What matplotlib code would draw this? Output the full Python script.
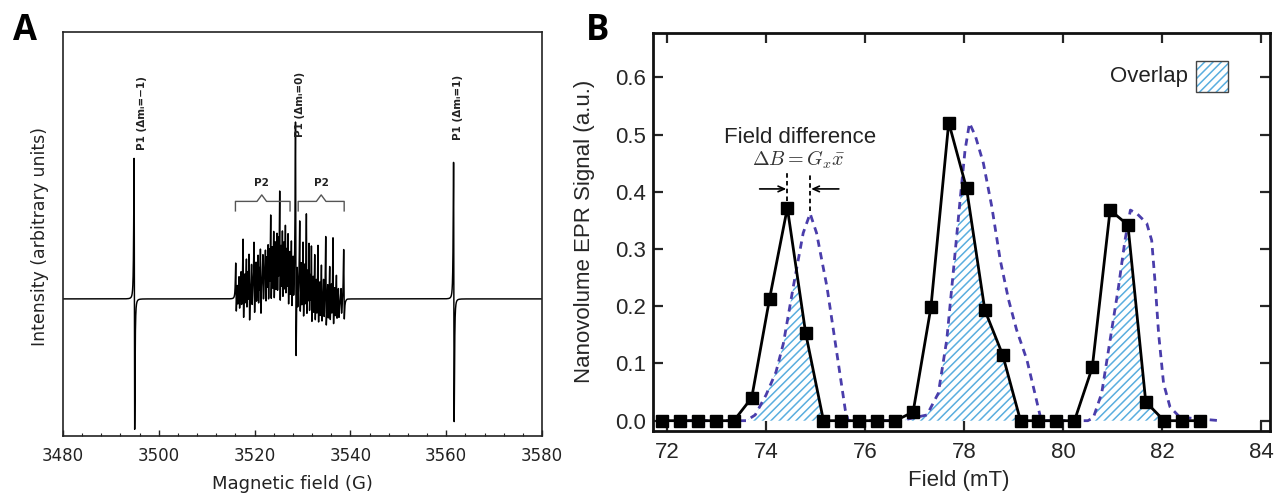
import numpy as np
import matplotlib
matplotlib.use("Agg")
import matplotlib.pyplot as plt
from matplotlib.patches import Rectangle
from matplotlib.ticker import MultipleLocator

plt.rcParams["mathtext.fontset"] = "cm"

# ---------------- Panel A data (EPR spectrum) ----------------
a_xticks = [3480, 3500, 3520, 3540, 3560, 3580]
a_xlabel = "Magnetic field (G)"
a_ylabel = "Intensity (arbitrary units)"

# P1 lines: position (G), upper lobe, lower lobe (arbitrary units)
p1_pos = [3494.9, 3528.6, 3561.6]
p1_up = [140.5, 160.5, 136.5]
p1_down = [130.4, 75.2, 122.7]
p1_labels = ["P1 (Δmᵢ=−1)", "P1 (Δmᵢ=0)", "P1 (Δmᵢ=1)"]
p1_label_x = [3496.5, 3529.5, 3562.5]
p1_label_y = [149, 162, 159]

# P2 hyperfine lines (main)
p2_pos = [3516.12, 3516.81, 3517.65, 3518.35, 3518.90, 3519.94, 3520.78, 3521.27,
          3522.32, 3522.87, 3523.42, 3524.05, 3524.74, 3525.30, 3525.86, 3526.49,
          3527.04, 3527.74, 3529.48, 3530.17, 3530.87, 3531.42, 3531.92, 3532.61,
          3533.30, 3534.01, 3534.91, 3535.74, 3536.43, 3537.14, 3538.66]
p2_up = [34, 18, 52, 30, 38, 42, 25, 38, 24, 32, 62, 42, 36, 82, 44, 48,
         44, 38, 66, 50, 80, 55, 58, 47, 58, 40, 68, 38, 68, 30, 52]
p2_down = [16, 16, 29, 24, 32, 30, 30, 32, 32, 32, 30, 30, 30, 37, 30, 28,
           32, 30, 27, 28, 26, 22, 24, 22, 22, 18, 22, 18, 21, 15, 18]
# P2 weaker lines in between
p2m_pos = [3516.45, 3517.23, 3518.00, 3518.62, 3519.42, 3520.36, 3521.02, 3521.80,
           3522.60, 3523.15, 3523.73, 3524.40, 3525.02, 3525.58, 3526.17, 3526.76,
           3527.39, 3528.10, 3528.95, 3529.82, 3530.52, 3531.15, 3531.67, 3532.27,
           3532.95, 3533.65, 3534.46, 3535.33, 3536.08, 3536.78, 3537.55, 3538.10]
p2m_up = [12, 20, 18, 20, 22, 22, 20, 24, 22, 26, 28, 30, 32, 30, 32, 28,
          26, 24, 26, 28, 28, 26, 24, 24, 22, 22, 24, 20, 20, 18, 16, 14]
p2m_down = [10, 16, 16, 18, 20, 20, 18, 22, 20, 22, 22, 24, 24, 24, 24, 22,
            22, 20, 20, 20, 20, 18, 18, 18, 18, 16, 16, 16, 16, 14, 14, 12]
# broad background under the P2 group
p2_bg_x = [3515.9, 3517, 3519, 3521, 3523, 3525, 3527, 3528.5, 3530, 3532, 3534,
           3536, 3538, 3539.3]
p2_bg_y = [0, 6, 12, 18, 26, 30, 26, 16, 8, 0, -5, -6, -4, 0]
# P2 brackets: left end, tip, right end
p2_brackets = [(3516.0, 3521.5, 3527.4), (3529.1, 3533.9, 3538.7)]

# ---------------- Panel B data ----------------
b_field = [71.90, 72.26, 72.62, 72.99, 73.35, 73.71, 74.07, 74.43, 74.80, 75.16,
           75.52, 75.88, 76.24, 76.61, 76.97, 77.33, 77.69, 78.05, 78.42, 78.78,
           79.14, 79.50, 79.86, 80.23, 80.59, 80.95, 81.31, 81.67, 82.04, 82.40,
           82.76]
b_signal = [0, 0, 0, 0, 0, 0.040, 0.213, 0.372, 0.153, 0,
            0, 0, 0, 0, 0.015, 0.198, 0.521, 0.406, 0.193, 0.115,
            0, 0, 0, 0, 0.093, 0.368, 0.342, 0.033, 0, 0,
            0]
shift_field = [71.90, 73.60, 73.78, 74.00, 74.20, 74.35, 74.55, 74.75, 74.89, 75.02,
               75.23, 75.43, 75.60, 75.66, 76.71, 77.25, 77.48, 77.65, 77.78, 77.92,
               78.02, 78.11, 78.23, 78.39, 78.56, 78.73, 78.90, 79.06, 79.27, 79.43,
               79.54, 79.62, 80.50, 80.61, 80.78, 80.95, 81.12, 81.25, 81.36, 81.49,
               81.69, 81.79, 81.86, 81.93, 82.03, 82.16, 82.36, 83.17]
shift_signal = [0, 0, 0.010, 0.045, 0.085, 0.135, 0.234, 0.328, 0.362, 0.328,
                0.234, 0.118, 0.019, 0, 0, 0.010, 0.048, 0.141, 0.258, 0.386,
                0.473, 0.520, 0.497, 0.450, 0.374, 0.281, 0.211, 0.159, 0.106, 0.048,
                0.007, 0, 0, 0.005, 0.048, 0.141, 0.234, 0.315, 0.368, 0.362,
                0.345, 0.315, 0.240, 0.152, 0.065, 0.024, 0.006, 0]
b_xticks = [72, 74, 76, 78, 80, 82, 84]
b_yticks = [0.0, 0.1, 0.2, 0.3, 0.4, 0.5, 0.6]
b_xlabel = "Field (mT)"
b_ylabel = "Nanovolume EPR Signal (a.u.)"

# ---------------- figure ----------------
fig = plt.figure(figsize=(12.8, 4.93), dpi=100)

# ---- Panel A ----
axA = fig.add_axes([63 / 1280, 57 / 493, 479 / 1280, 404 / 493])
x = np.arange(3480.0, 3580.0001, 0.004)


def dlor(xx, x0, up, down, g):
    u = (xx - x0) / g
    s = -2 * u / (1 + u ** 2) ** 2 / 0.6495
    return np.where(u < 0, up * s, down * s)


y = np.zeros_like(x)
for p, u_, d_ in zip(p1_pos, p1_up, p1_down):
    y += dlor(x, p, u_, d_, 0.11)
for p, u_, d_ in zip(p2_pos, p2_up, p2_down):
    y += dlor(x, p, u_, d_, 0.11)
for p, u_, d_ in zip(p2m_pos, p2m_up, p2m_down):
    y += dlor(x, p, u_, d_, 0.11)
y += np.interp(x, p2_bg_x, p2_bg_y, left=0, right=0)

axA.plot(x, y, color="black", lw=1.05)
axA.set_xlim(3480, 3580)
axA.set_ylim(-137.1, 266.9)
axA.set_xticks(a_xticks)
axA.xaxis.set_minor_locator(MultipleLocator(4))
axA.set_yticks([])
axA.tick_params(axis="x", which="both", direction="in", top=False, labelsize=12,
                pad=8, colors="#222222")
axA.tick_params(axis="x", which="major", length=4, width=1)
axA.tick_params(axis="x", which="minor", length=2.5, width=0.8)
for s in axA.spines.values():
    s.set_linewidth(1.2)
    s.set_color("#222222")
axA.set_xlabel(a_xlabel, fontsize=13, color="#222222", va="center")
axA.xaxis.set_label_coords(0.48, -0.119)
axA.set_ylabel(a_ylabel, fontsize=12.5, color="#222222", va="center")
axA.yaxis.set_label_coords(-0.048, 0.495)

for lx, ly, lab in zip(p1_label_x, p1_label_y, p1_labels):
    axA.text(lx, ly, lab, rotation=90, ha="center", va="bottom", fontsize=7.5,
             fontweight="bold", color="#222222")

for (x0, xc, x1) in p2_brackets:
    bx = [x0, x0, xc - 1.0, xc, xc + 1.0, x1, x1]
    by = [88, 97.5, 97.5, 104, 97.5, 97.5, 88]
    axA.plot(bx, by, color="#555555", lw=1.0)
    axA.text(xc, 116, "P2", ha="center", va="center", fontsize=7.5,
             fontweight="bold", color="#222222")

fig.text(25 / 1280, 1 - 31 / 493, "A", fontsize=25, fontweight="bold",
         family="Open Sans", ha="center", va="center")
fig.text(598 / 1280, 1 - 31 / 493, "B", fontsize=25, fontweight="bold",
         family="Open Sans", ha="center", va="center")

# ---- Panel B ----
fb = "Liberation Sans"
axB = fig.add_axes([652.7 / 1280, 62.3 / 493, 617.3 / 1280, 398 / 493])
plt.rcParams["hatch.linewidth"] = 1.1
xf = np.linspace(b_field[0], shift_field[-1], 3000)
yb = np.interp(xf, b_field, b_signal, right=0)
yd = np.interp(xf, shift_field, shift_signal)
ov = np.minimum(yb, yd)
axB.fill_between(xf, 0, ov, where=ov > 0.002, facecolor="none",
                 edgecolor="#5aaedf", hatch="////", linewidth=0, zorder=1)
axB.plot(shift_field, shift_signal, color="#4a3dab", lw=2,
         ls=(0, (2.6, 2.0)), zorder=2)
axB.plot(b_field, b_signal, color="black", lw=2, marker="s", ms=8, zorder=3)

# field-difference annotation
pk_i = int(np.argmax(b_signal[:10]))
pk_x = b_field[pk_i]
pk_y = b_signal[pk_i]
sh_i = int(np.argmax(shift_signal[:14]))
sh_x = shift_field[sh_i]
sh_y = shift_signal[sh_i]
axB.plot([pk_x, pk_x], [pk_y + 0.012, 0.432], color="black", lw=1.3,
         ls=(0, (2.5, 1.8)), zorder=4)
axB.plot([sh_x, sh_x], [sh_y + 0.004, 0.432], color="black", lw=1.3,
         ls=(0, (2.5, 1.8)), zorder=4)
axB.annotate("", xy=(pk_x - 0.02, 0.405), xytext=(pk_x - 0.56, 0.405),
             arrowprops=dict(arrowstyle="->,head_length=0.45,head_width=0.2",
                             lw=1.2, color="black", shrinkA=0, shrinkB=0))
axB.annotate("", xy=(sh_x + 0.02, 0.405), xytext=(sh_x + 0.58, 0.405),
             arrowprops=dict(arrowstyle="->,head_length=0.45,head_width=0.2",
                             lw=1.2, color="black", shrinkA=0, shrinkB=0))
axB.text(74.68, 0.494, "Field difference", ha="center", va="center",
         fontsize=16, family=fb, color="#222222")
axB.text(74.65, 0.456, r"$\Delta B = G_x\bar{x}$", ha="center", va="center",
         fontsize=14.5, color="#333333")

# legend box
axB.add_patch(Rectangle((0.880, 0.851), 0.052, 0.078, transform=axB.transAxes,
                        facecolor="none", edgecolor="#5aaedf", hatch="////",
                        linewidth=0, zorder=5))
axB.add_patch(Rectangle((0.880, 0.851), 0.052, 0.078, transform=axB.transAxes,
                        facecolor="none", edgecolor="#444444", linewidth=1.0,
                        zorder=6))
axB.text(0.867, 0.889, "Overlap", transform=axB.transAxes, ha="right",
         va="center", fontsize=16, family=fb, color="#222222")

axB.set_xlim(71.71, 84.18)
axB.set_ylim(-0.0175, 0.678)
axB.set_xticks(b_xticks)
axB.set_yticks(b_yticks)
axB.set_xticklabels([str(v) for v in b_xticks], family=fb)
axB.set_yticklabels(["%.1f" % v for v in b_yticks], family=fb)
axB.tick_params(axis="both", direction="in", top=True, right=True, length=7,
                width=1.6, labelsize=16, colors="#262626")
axB.tick_params(axis="x", pad=8)
axB.tick_params(axis="y", pad=5)
for s in axB.spines.values():
    s.set_linewidth(2)
    s.set_color("#111111")
axB.set_xlabel(b_xlabel, fontsize=16, family=fb, color="#262626", va="center")
axB.xaxis.set_label_coords(0.496, -0.124)
axB.set_ylabel(b_ylabel, fontsize=16, family=fb, color="#262626", va="center")
axB.yaxis.set_label_coords(-0.1097, 0.5)

fig.savefig("out.png", dpi=100)
